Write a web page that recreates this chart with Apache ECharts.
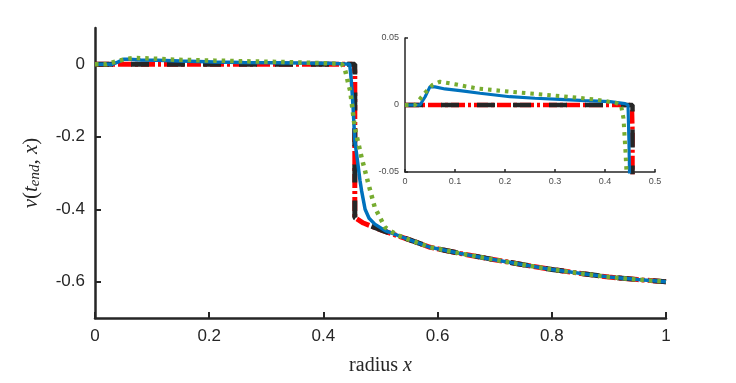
<!DOCTYPE html>
<html>
<head>
<meta charset="utf-8">
<script src="https://cdn.jsdelivr.net/npm/echarts@6/dist/echarts.min.js"></script>
<style>
  html, body { margin: 0; padding: 0; background: #fff; }
  #main { width: 736px; height: 383px; }
</style>
</head>
<body>
<div id="main"></div>
<script>
// shared tail of all solutions (x > 0.5)
var tail = [[0.55, -0.484], [0.587, -0.505], [0.64, -0.522], [0.692, -0.537], [0.75, -0.553],
    [0.8, -0.566], [0.855, -0.578], [0.9, -0.587], [0.95, -0.594], [1.0, -0.600]]

var blueData = [[0, 0], [0.03, 0], [0.04, 0.006], [0.05, 0.0137], [0.06, 0.0135], [0.08, 0.012],
    [0.11, 0.0107], [0.15, 0.0088], [0.21, 0.0062], [0.26, 0.005], [0.31, 0.0042], [0.36, 0.0033],
    [0.41, 0.0025], [0.44, 0.001], [0.446, 0], [0.448, -0.03], [0.450, -0.07], [0.452, -0.12],
    [0.455, -0.21], [0.46, -0.27], [0.464, -0.32], [0.467, -0.35], [0.473, -0.40], [0.48, -0.425],
    [0.49, -0.441], [0.508, -0.459]].concat(tail)

var redData = [[0, 0], [0.45, 0], [0.454, -0.004], [0.455, -0.02], [0.455, -0.423], [0.47, -0.438],
    [0.504, -0.459]].concat(tail)

var blackData = [[0, 0], [0.455, 0], [0.455, -0.423], [0.47, -0.438], [0.504, -0.459]].concat(tail)

var greenData = [[0, 0], [0.02, 0], [0.04, 0.009], [0.055, 0.015], [0.07, 0.0174], [0.1, 0.0155],
    [0.143, 0.0124], [0.21, 0.0099], [0.26, 0.0083], [0.31, 0.0067], [0.35, 0.0053], [0.377, 0.0042],
    [0.40, 0.003], [0.423, 0.0014], [0.432, 0], [0.437, -0.01], [0.441, -0.035], [0.443, -0.05],
    [0.447, -0.074], [0.455, -0.175], [0.467, -0.258], [0.479, -0.331], [0.49, -0.395], [0.508, -0.45],
    [0.53, -0.472]].concat(tail)

var mainYTicks = [-0.6, -0.4, -0.2, 0]

var axisColor = '#262626'
var labelFont = 'Liberation Sans'
var mathFont = 'Liberation Serif'

function fmt(v) {
    var s = Math.abs(v) < 1e-9 ? '0' : String(Math.round(v * 1000) / 1000)
    return s
}

var styles = [
    { name: 'red', data: redData, color: '#FF0000', width: 5, type: [14, 3, 3, 3] },
    { name: 'black', data: blackData, color: '#262626', width: 5, type: [18, 18] },
    { name: 'blue', data: blueData, color: '#0072BD', width: 3.5, type: 'solid' },
    { name: 'green', data: greenData, color: '#77AC30', width: 4.5, type: [3.5, 5] }
]

var series = []
for (var g = 0; g < 2; g++) {
    for (var k = 0; k < styles.length; k++) {
        var s = styles[k]
        series.push({
            name: s.name,
            type: 'line',
            xAxisIndex: g,
            yAxisIndex: g,
            data: s.data,
            symbol: 'none',
            clip: true,
            lineStyle: {
                color: s.color,
                width: g === 0 ? s.width : s.width * 0.9,
                type: s.type,
                cap: 'butt'
            }
        })
    }
}

var option = {
    animation: false,
    backgroundColor: '#fff',
    grid: [
        { left: 95, right: 70, top: 28, bottom: 65 },
        { left: 405, width: 250, top: 38, height: 134 }
    ],
    xAxis: [
        {
            gridIndex: 0, type: 'value', min: 0, max: 1, interval: 0.2,
            splitLine: { show: false },
            axisLine: { onZero: false, lineStyle: { color: axisColor, width: 2.5 } },
            axisTick: { inside: true, length: 6, lineStyle: { color: axisColor, width: 2 } },
            axisLabel: { color: axisColor, fontSize: 17, fontFamily: labelFont, margin: 10, formatter: fmt },
            name: 'radius {i|x}',
            nameLocation: 'middle',
            nameGap: 38,
            nameTextStyle: {
                fontFamily: mathFont, fontSize: 20, color: axisColor,
                rich: { i: { fontFamily: mathFont, fontStyle: 'italic', fontSize: 20, color: axisColor } }
            }
        },
        {
            gridIndex: 1, type: 'value', min: 0, max: 0.5, interval: 0.1,
            splitLine: { show: false },
            axisLine: { onZero: false, lineStyle: { color: axisColor, width: 1.5 } },
            axisTick: { inside: true, length: 3, lineStyle: { color: axisColor, width: 1.5 } },
            axisLabel: { color: '#4d4d4d', fontSize: 9, fontFamily: labelFont, margin: 5, formatter: fmt }
        }
    ],
    yAxis: [
        {
            gridIndex: 0, type: 'value', min: -0.7, max: 0.1,
            splitLine: { show: false },
            axisLine: { show: true, onZero: false, lineStyle: { color: axisColor, width: 2.5 } },
            axisTick: { show: true, inside: true, length: 6, customValues: mainYTicks, lineStyle: { color: axisColor, width: 2 } },
            axisLabel: { color: axisColor, fontSize: 17, fontFamily: labelFont, margin: 10, customValues: mainYTicks, formatter: fmt },
            name: '{i|v}({i|t}{s|end}, {i|x})',
            nameLocation: 'middle',
            nameGap: 52,
            nameRotate: 90,
            nameTextStyle: {
                fontFamily: mathFont, fontSize: 21, color: axisColor,
                rich: {
                    i: { fontFamily: mathFont, fontStyle: 'italic', fontSize: 21, color: axisColor },
                    s: { fontFamily: mathFont, fontStyle: 'italic', fontSize: 15, color: axisColor, padding: [9, 0, 0, 0] }
                }
            }
        },
        {
            gridIndex: 1, type: 'value', min: -0.05, max: 0.05, interval: 0.05,
            splitLine: { show: false },
            axisLine: { show: true, onZero: false, lineStyle: { color: axisColor, width: 1.5 } },
            axisTick: { show: true, inside: true, length: 3, lineStyle: { color: axisColor, width: 1.5 } },
            axisLabel: { color: '#4d4d4d', fontSize: 9, fontFamily: labelFont, margin: 6, formatter: fmt }
        }
    ],
    series: series
}

var myChart = echarts.init(document.getElementById('main'))
myChart.setOption(option)
</script>
</body>
</html>
